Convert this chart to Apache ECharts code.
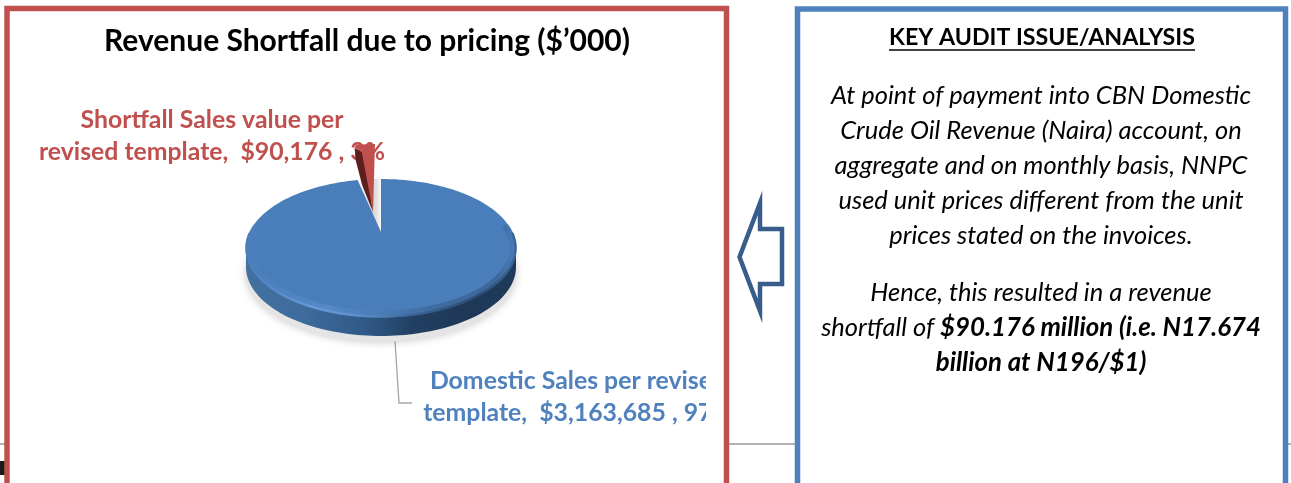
<!DOCTYPE html>
<html>
<head>
<meta charset="utf-8">
<style>html,body{margin:0;padding:0;background:#fff}#c{width:1291px;height:483px}</style>
<script src="https://cdn.jsdelivr.net/npm/echarts@6/dist/echarts.min.js"></script>
</head>
<body>
<div id="c"></div>
<script>
var categories = ['Domestic Sales per revised template', 'Shortfall Sales value per revised template'];
var salesValues = [3163685, 90176];
var chartTitle = 'Revenue Shortfall due to pricing ($\u2019000)';
var domesticLabel = 'Domestic Sales per revised\ntemplate,  $3,163,685 , 97%';
var shortfallLabel = 'Shortfall Sales value per\nrevised template,  $90,176 , 3%';
var panelHeading = 'KEY AUDIT ISSUE/ANALYSIS';
var panelLinesA = [
  'At point of payment into CBN Domestic',
  'Crude Oil Revenue (Naira) account, on',
  'aggregate and on monthly basis, NNPC',
  'used unit prices different from the unit',
  'prices stated on the invoices.'
];
var panelLinesB = [
  '{i|Hence, this resulted in a revenue}',
  '{i|shortfall of }{b|$90.176 million (i.e. N17.674}',
  '{b|billion at N196/$1)}'
];

var FONT = 'Lato, Carlito, "Open Sans", sans-serif';
var total = salesValues.reduce(function (a, b) { return a + b; }, 0);
var P = { cx: 381, cy: 248, rx: 135, ry: 69, apexLift: 16, depth: 19 };

function arc(cx, cy, a0, a1, dy, inset) {
  var pts = [], n = Math.max(2, Math.ceil(Math.abs(a1 - a0) / 2)), d = inset || 0;
  for (var i = 0; i <= n; i++) {
    var t = (a0 + (a1 - a0) * i / n) * Math.PI / 180;
    pts.push([cx + (P.rx - d) * Math.sin(t), cy - (P.ry - d) * Math.cos(t) + (dy || 0)]);
  }
  return pts;
}
function grad(stops) {
  return new echarts.graphic.LinearGradient(0, 0, 1, 0, stops.map(function (s) {
    return { offset: s[0], color: s[1] };
  }));
}

function renderItem(params, api) {
  var idx = params.dataIndex;
  var val = api.value(0);
  var before = 0;
  for (var k = 0; k < idx; k++) before += salesValues[k];
  var a0 = before / total * 360;
  var a1 = (before + val) / total * 360;
  var children = [];
  if (idx === 0) {
    var rim = arc(P.cx, P.cy, 90, 270).concat(arc(P.cx, P.cy, 270, 90, P.depth));
    var shadowPts = arc(P.cx, P.cy + 6, 0, 360, P.depth);
    children.push({ type: 'polygon', shape: { points: shadowPts },
      style: { fill: '#e4e4e4', shadowBlur: 9, shadowColor: 'rgba(0,0,0,0.22)' } });
    children.push({ type: 'polygon', shape: { points: rim },
      style: { fill: grad([[0, '#41709f'], [0.2, '#3f6c9e'], [0.45, '#2f5885'], [0.62, '#223f62'], [0.8, '#1e3856'], [1, '#1f3b5a']]) } });
    // shaded notch behind the pulled-out slice
    children.push({ type: 'polygon',
      shape: { points: [[P.cx, P.cy - P.apexLift]].concat(arc(P.cx, P.cy, a1, 360)) },
      style: { fill: grad([[0, '#ffffff'], [0.65, '#d4d4d4'], [1, '#f7f7f7']]) } });
    var face = [[P.cx, P.cy - P.apexLift]].concat(arc(P.cx, P.cy, a0, a1));
    children.push({ type: 'polygon', shape: { points: face }, style: { fill: '#4a7ebb' } });
    // soft outer band of the bevel, then the bright edge
    children.push({ type: 'polyline', shape: { points: arc(P.cx, P.cy, 72, 288, 0, 3) },
      style: { fill: null, lineWidth: 7, lineCap: 'round', opacity: 0.45,
        stroke: grad([[0, '#4a7ebb'], [0.12, '#5488c4'], [0.3, '#6096d4'], [0.5, '#4a7ab0'], [0.72, '#2f5278'], [0.92, '#2b4b70'], [1, '#4a7ebb']]) } });
    children.push({ type: 'polyline', shape: { points: arc(P.cx, P.cy, 78, 282, 0, 0.5) },
      style: { fill: null, lineWidth: 2.5, lineCap: 'round',
        stroke: grad([[0, '#4a7ebb'], [0.25, '#659ad8'], [0.42, '#5d8fca'], [0.62, '#3a6697'], [0.85, '#2a4a6f'], [1, '#3d6898']]) } });
  } else {
    // pulled-out slice: the top face and the dark cut wall below it
    var rc = P.cx - 6, ryc = P.cy - 35;
    var arcPts = arc(rc, ryc, a0, a1);
    var apex = [373, 212];
    var left = arcPts[0];
    children.push({ type: 'polygon',
      shape: { points: [[left[0] + 3, left[1] + 3], [left[0] + 4, left[1] + 15], [left[0] + 10.5, left[1] + 40], apex, [left[0] + 12, left[1] + 8]] },
      style: { fill: '#5c1f1e' } });
    children.push({ type: 'polygon',
      shape: { points: [apex, [left[0] + 10, left[1] + 6], [left[0] + 3, left[1] + 3]].concat(arcPts.slice(1)) },
      style: { fill: '#c0504d' } });
  }
  return { type: 'group', children: children };
}

var g = [];
// page rule and stray mark behind the panels
g.push({ type: 'line', z: 0, shape: { x1: 0, y1: 444, x2: 1291, y2: 444 }, style: { stroke: '#b3b3b3', lineWidth: 2 } });
g.push({ type: 'rect', z: 0, shape: { x: 0, y: 461, width: 5, height: 14 }, style: { fill: '#1a1a1a' } });
// panel fills
g.push({ type: 'rect', z: 1, shape: { x: 7, y: 8.5, width: 719.5, height: 500 }, style: { fill: '#fff' } });
g.push({ type: 'rect', z: 1, shape: { x: 797.5, y: 9, width: 488, height: 500 }, style: { fill: '#fff' } });
// chart texts
g.push({ type: 'text', x: 367, y: 41, z: 2, style: { text: chartTitle, fill: '#000', align: 'center', verticalAlign: 'middle',
  fontFamily: FONT, fontWeight: 'bold', fontSize: 30 } });
g.push({ type: 'text', x: 212, y: 136, z: 2, style: { text: shortfallLabel, fill: '#c0504d', align: 'center', verticalAlign: 'middle',
  fontFamily: FONT, fontWeight: 'bold', fontSize: 24.8, lineHeight: 32 } });
g.push({ type: 'text', x: 578, y: 397, z: 2, style: { text: domesticLabel, fill: '#4f81bd', align: 'center', verticalAlign: 'middle',
  fontFamily: FONT, fontWeight: 'bold', fontSize: 24.8, lineHeight: 32 } });
// the label box cuts the text off on the right
g.push({ type: 'rect', z: 3, shape: { x: 706, y: 360, width: 88, height: 70 }, style: { fill: '#fff' } });
// leader line
g.push({ type: 'polyline', z: 3, shape: { points: [[395, 341], [399, 403], [412, 403]] }, style: { stroke: '#a6a6a6', lineWidth: 1.3, fill: null } });
// panel borders (open at the bottom of the picture)
g.push({ type: 'polyline', z: 6, shape: { points: [[7, 490], [7, 8.5], [726.5, 8.5], [726.5, 490]] }, style: { stroke: '#c0504d', lineWidth: 5.5, fill: null } });
g.push({ type: 'polyline', z: 6, shape: { points: [[797.5, 490], [797.5, 9], [1285.5, 9], [1285.5, 490]] }, style: { stroke: '#4f81bd', lineWidth: 5.5, fill: null } });
// arrow
g.push({ type: 'polygon', z: 6, shape: { points: [[739.5, 257], [760, 203], [760, 229], [782, 229], [782, 284], [760, 284], [760, 311]] },
  style: { fill: '#fff', stroke: '#385d8a', lineWidth: 4.5, lineJoin: 'miter', miterLimit: 12 } });
// right panel text
g.push({ type: 'text', x: 1042, y: 38, z: 7, style: { text: panelHeading, fill: '#000', align: 'center', verticalAlign: 'middle',
  fontFamily: FONT, fontWeight: 'bold', fontSize: 23.2 } });
g.push({ type: 'line', z: 7, shape: { x1: 889, y1: 50, x2: 1195, y2: 50 }, style: { stroke: '#000', lineWidth: 1.6 } });
g.push({ type: 'text', x: 1041, y: 166, z: 7, style: { text: panelLinesA.join('\n'), fill: '#000', align: 'center', verticalAlign: 'middle',
  fontFamily: FONT, fontStyle: 'italic', fontSize: 25.5, lineHeight: 35 } });
g.push({ type: 'text', x: 1041, y: 328, z: 7, style: { text: panelLinesB.join('\n'), fill: '#000', align: 'center', verticalAlign: 'middle',
  rich: {
    i: { fontFamily: FONT, fontStyle: 'italic', fontSize: 25.5, lineHeight: 35, fill: '#000' },
    b: { fontFamily: FONT, fontStyle: 'italic', fontWeight: 'bold', fontSize: 25.8, lineHeight: 35, fill: '#000' }
  } } });

var chart = echarts.init(document.getElementById('c'), null, { renderer: 'canvas' });
chart.setOption({
  animation: false,
  backgroundColor: '#fff',
  graphic: { elements: g },
  series: [{
    type: 'custom', coordinateSystem: 'none', z: 4, silent: true,
    renderItem: renderItem,
    data: salesValues.map(function (v, i) { return { name: categories[i], value: [v] }; })
  }]
});
</script>
</body>
</html>
